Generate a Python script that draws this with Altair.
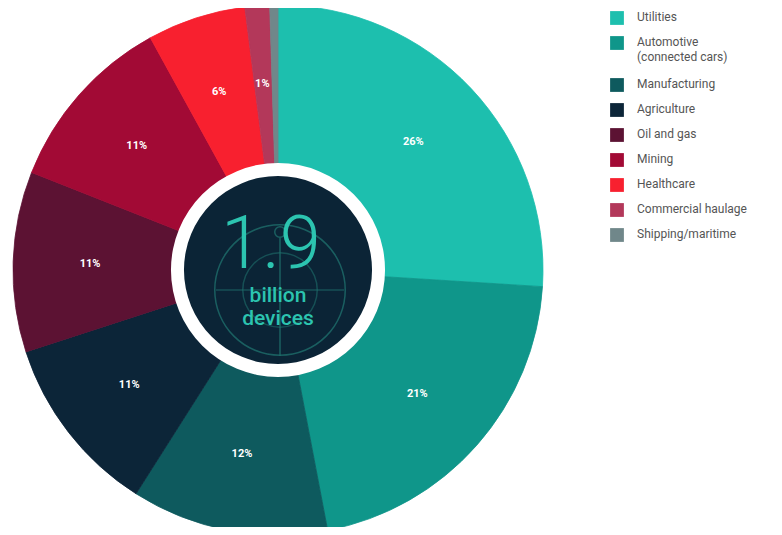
import altair as alt
import pandas as pd
import math

categories = ["Utilities", "Automotive (connected cars)", "Manufacturing", "Agriculture",
              "Oil and gas", "Mining", "Healthcare", "Commercial haulage", "Shipping/maritime"]
legend_labels = [["Utilities"], ["Automotive", "(connected cars)"], ["Manufacturing"], ["Agriculture"],
                 ["Oil and gas"], ["Mining"], ["Healthcare"], ["Commercial haulage"], ["Shipping/maritime"]]
shares = [26, 21, 12, 11, 11, 11, 6, 1.5, 0.5]
share_labels = ["26%", "21%", "12%", "11%", "11%", "11%", "6%", "1%", ""]
colors = ["#1DBFAE", "#0F968A", "#0E5A5E", "#0C2538", "#5C1233", "#A20A35", "#F8202F", "#B3385A", "#70878A"]

W, H = 766, 519
CX, CY = 270, 262
R = 265
FULL = 2 * math.pi

df = pd.DataFrame({"cat": categories, "share": shares, "label": share_labels,
                   "order": list(range(len(categories)))})

color_scale = alt.Scale(domain=categories, range=colors)

base = alt.Chart(df).encode(
    theta=alt.Theta("share:Q", stack=True),
    order=alt.Order("order:Q"),
    color=alt.Color("cat:N", scale=color_scale, legend=None),
)

pie = base.mark_arc(outerRadius=R, innerRadius=0, strokeWidth=0.8).encode(
    x=alt.value(CX), y=alt.value(CY),
    stroke=alt.Stroke("cat:N", scale=color_scale, legend=None))

labels = base.mark_text(radius=187, font="Roboto", fontSize=11, fontWeight="bold").encode(
    text="label:N", x=alt.value(CX - 1), y=alt.value(CY), color=alt.value("white"))

one = pd.DataFrame({"v": [1]})


def disc(outer, inner, color, dx=0, dy=0, opacity=1.0):
    return alt.Chart(one).mark_arc(outerRadius=outer, innerRadius=inner, color=color,
                                   opacity=opacity).encode(
        theta=alt.value(0), theta2=alt.value(FULL), x=alt.value(CX + dx), y=alt.value(CY + dy))


white_ring = disc(107, 0, "white")
dark_circle = disc(94, 0, "#0B2436")
globe = disc(66, 64.5, "#1E6E6B", 2, 20, 0.8)
globe_inner = disc(38, 36.5, "#1E6E6B", 2, 20, 0.6)
node = disc(6, 4.5, "#1E6E6B", 2, -38, 0.8)
meridian = alt.Chart(one).mark_rule(color="#1E6E6B", opacity=0.8, strokeWidth=1.5).encode(
    x=alt.value(CX + 2), y=alt.value(CY - 32), y2=alt.value(CY + 86))
equator = alt.Chart(one).mark_rule(color="#1E6E6B", opacity=0.6, strokeWidth=1.5).encode(
    x=alt.value(CX - 62), x2=alt.value(CX + 66), y=alt.value(CY + 20))

center_df = pd.DataFrame({"t": ["1.9"]})
big = alt.Chart(center_df).mark_text(font="Roboto", fontSize=74, fontWeight=300, color="#2CC4B0",
                                     baseline="alphabetic", dx=-7).encode(
    text="t:N", x=alt.value(CX), y=alt.value(CY - 2))
sub_df = pd.DataFrame({"t": ["billion"]})
sub = alt.Chart(sub_df).mark_text(font="Roboto", fontSize=21, fontWeight=500, color="#2CC4B0",
                                  baseline="alphabetic").encode(
    text="t:N", x=alt.value(CX), y=alt.value(CY + 32))
sub2_df = pd.DataFrame({"t": ["devices"]})
sub2 = alt.Chart(sub2_df).mark_text(font="Roboto", fontSize=21, fontWeight=500, color="#2CC4B0",
                                    baseline="alphabetic").encode(
    text="t:N", x=alt.value(CX), y=alt.value(CY + 55))

# legend layout: row heights depend on number of label lines
ys = []
y = 10
for lines in legend_labels:
    ys.append(y)
    y += 25 + 17 * (len(lines) - 1)
leg = pd.DataFrame({"cat": categories, "lines": legend_labels, "ly": ys})
leg_sq = alt.Chart(leg).mark_square(size=190, opacity=1).encode(
    x=alt.value(609), y=alt.Y("ly:Q", scale=None, axis=None),
    color=alt.Color("cat:N", scale=color_scale, legend=None))
leg_txt = alt.Chart(leg).mark_text(align="left", baseline="top", font="Roboto", fontSize=12,
                                   color="#555555", lineHeight=15, dy=-6).encode(
    x=alt.value(629), y=alt.Y("ly:Q", scale=None, axis=None), text="lines")

bottom_bar = alt.Chart(one).mark_rule(color="#1A1A1A", strokeWidth=3).encode(
    x=alt.value(595), x2=alt.value(W + 8), y=alt.value(H + 5))

chart = alt.layer(pie, labels, white_ring, dark_circle, globe, globe_inner, node, meridian, equator,
                  big, sub, sub2, leg_sq, leg_txt, bottom_bar).properties(
    width=W, height=H, padding=0, autosize="none"
).configure_view(stroke=None)

chart.save("out.html", embed_options={"renderer": "svg", "actions": False})
